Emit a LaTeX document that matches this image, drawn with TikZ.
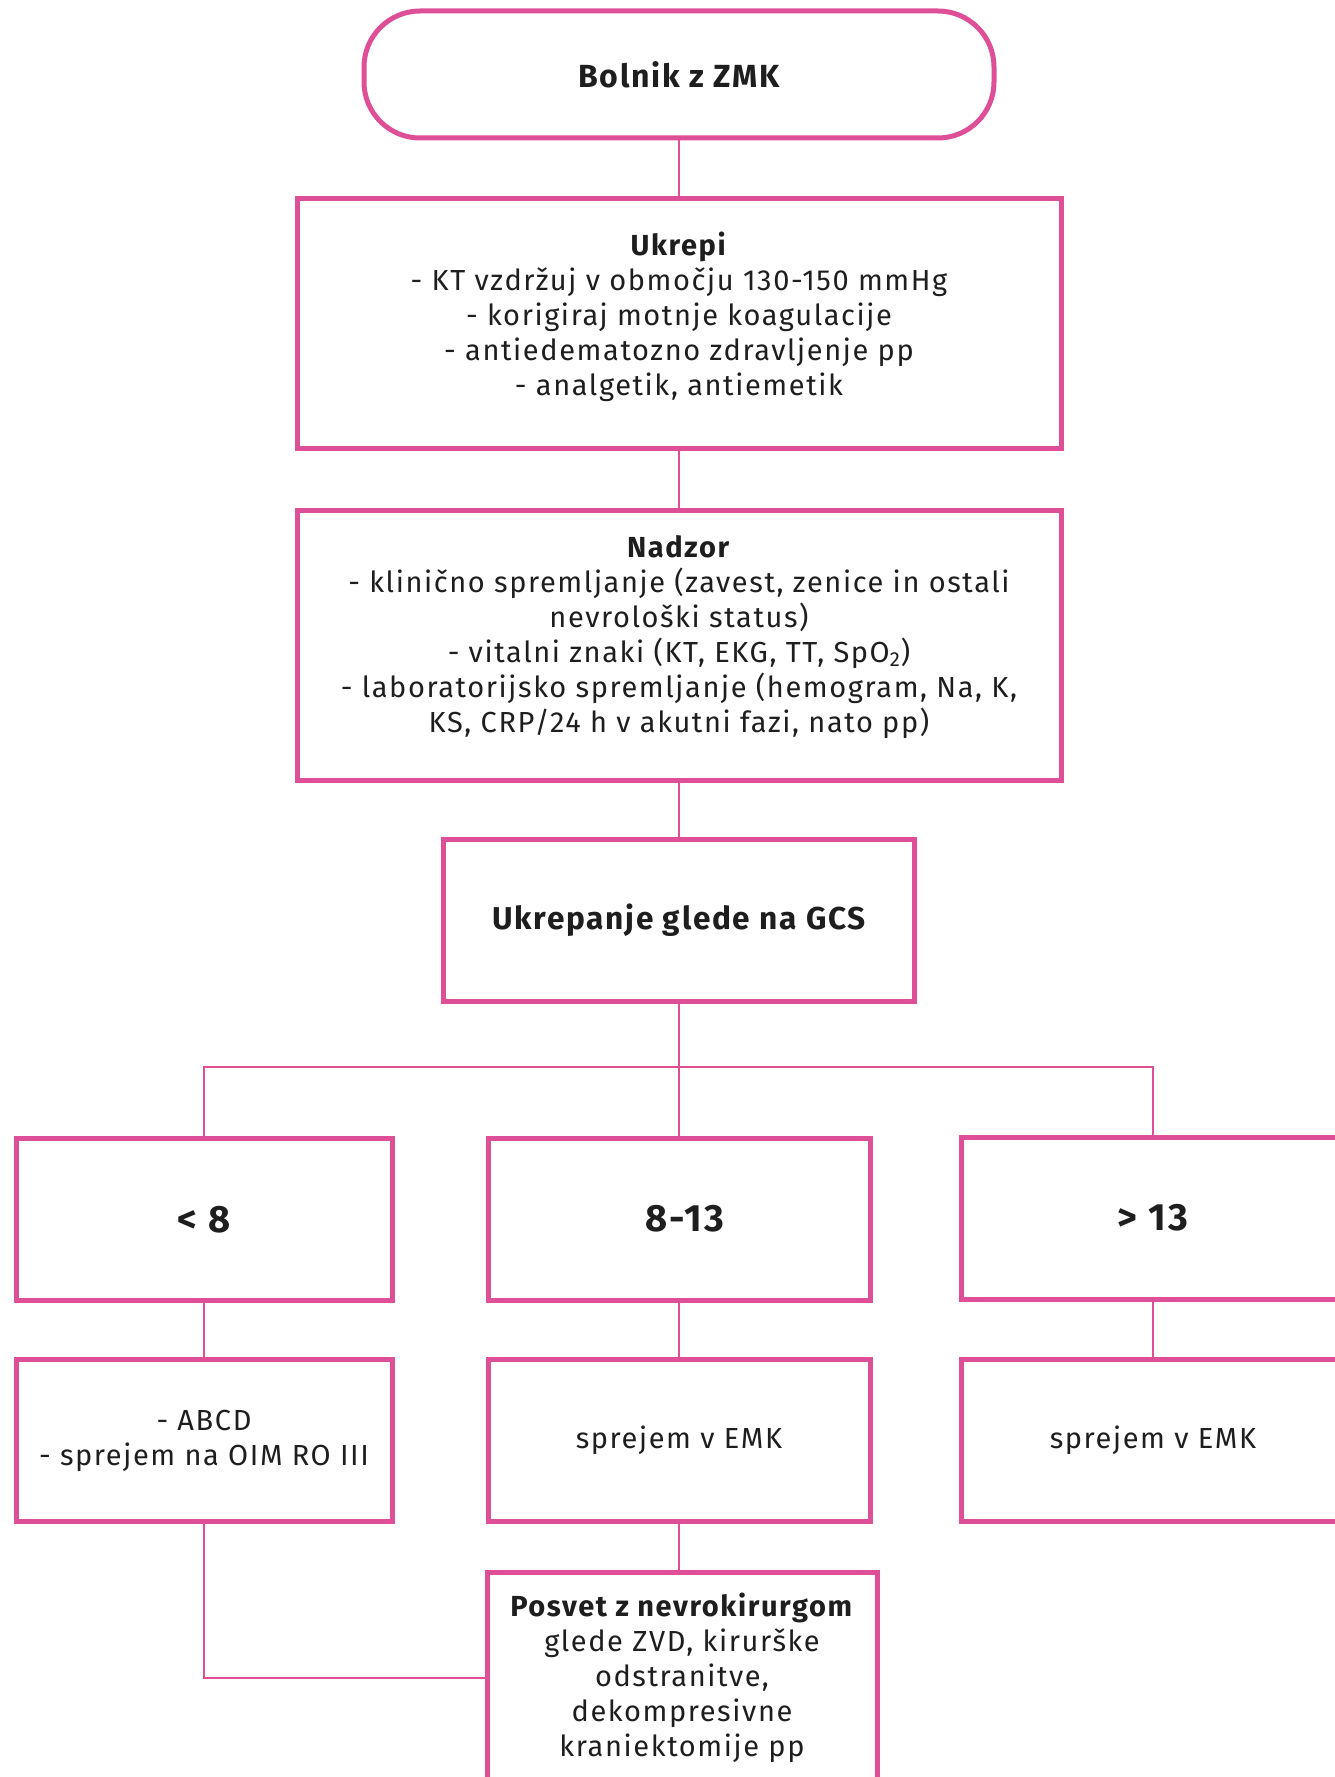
\documentclass[tikz,border=0pt]{standalone}
\usepackage{fontspec}
\setmainfont[LetterSpace=5.5]{Fira Sans}
\usepackage{xcolor}
\usepackage{tikz}
\usetikzlibrary{positioning}
\definecolor{roza}{RGB}{222,79,152}
\definecolor{crnilo}{RGB}{30,30,30}

\begin{document}
\begin{tikzpicture}[x=0.5pt, y=-0.5pt,
    korak/.style={rectangle, draw=roza, line width=2.5pt, fill=white, align=center, text=crnilo, inner sep=0pt, font=\fontsize{14.5}{17.5}\selectfont},
    zacetek/.style={korak, rounded corners=28pt, minimum width=315pt, minimum height=63.5pt, font=\fontsize{16}{18}\selectfont\bfseries},
    velik/.style={korak, minimum width=235.5pt, minimum height=81pt, font=\fontsize{15.8}{18}\selectfont\bfseries},
    razred/.style={korak, minimum width=188pt, minimum height=81pt, font=\fontsize{19}{24}\selectfont\bfseries},
    sprejem/.style={korak, minimum width=188pt, minimum height=81pt},
    vez/.style={draw=roza, line width=1.1pt}
]
    \useasboundingbox (0,0) rectangle (1334,1777);

    % Zgoraj - zacetek in ukrepi
    \node[zacetek] (bolnik) at (679,74.5) {Bolnik z ZMK};
    \node[korak, minimum width=382pt, minimum height=125pt, text depth=9pt] (ukrepi) at (679,323)
        {\textbf{Ukrepi}\\- KT vzdržuj v območju 130-150 mmHg\\- korigiraj motnje koagulacije\\- antiedematozno zdravljenje pp\\- analgetik, antiemetik};
    \node[korak, minimum width=382pt, minimum height=135pt, text depth=11pt] (nadzor) at (679,645)
        {\textbf{Nadzor}\\- klinično spremljanje (zavest, zenice in ostali\\nevrološki status)\\- vitalni znaki (KT, EKG, TT, SpO\textsubscript{2})\\- laboratorijsko spremljanje (hemogram, Na, K,\\KS, CRP/24 h v akutni fazi, nato pp)};
    \node[velik] (gcs) at (679,920) {Ukrepanje glede na GCS};

    % Razredi GCS
    \node[razred] (pod8) at (204,1219.5) {< 8};
    \node[razred, minimum width=191pt] (sred) at (679,1219) {\hspace*{6pt}8-13};
    \node[razred, minimum width=192pt] (nad13) at (1153,1218) {> 13};

    % Odlocitve
    \node[sprejem] (abcd) at (204,1440.5) {- ABCD\\- sprejem na OIM RO III};
    \node[sprejem, minimum width=191pt] (emk) at (679,1440.5) {sprejem v EMK};
    \node[sprejem, minimum width=192pt] (emkb) at (1153,1440) {sprejem v EMK};
    \node[korak, minimum width=195pt, minimum height=106pt] (posvet) at (682,1678)
        {\textbf{Posvet z nevrokirurgom}\\glede ZVD, kirurške\\odstranitve,\\dekompresivne\\kraniektomije pp};

    % Povezave
    \coordinate (razcep) at (679,1067);
    \draw[vez] (bolnik.south) -- (ukrepi.north);
    \draw[vez] (ukrepi.south) -- (nadzor.north);
    \draw[vez] (nadzor.south) -- (gcs.north);
    \draw[vez] (gcs.south) -- (sred.north);
    \draw[vez] (pod8.north) |- (razcep) -| (nad13.north);
    \draw[vez] (pod8.south) -- (abcd.north);
    \draw[vez] (sred.south) -- (emk.north);
    \draw[vez] (nad13.south) -- (emkb.north);
    \draw[vez] (emk.south) -- (emk.south |- posvet.north);
    \draw[vez] (abcd.south) |- (posvet.west);
\end{tikzpicture}
\end{document}
